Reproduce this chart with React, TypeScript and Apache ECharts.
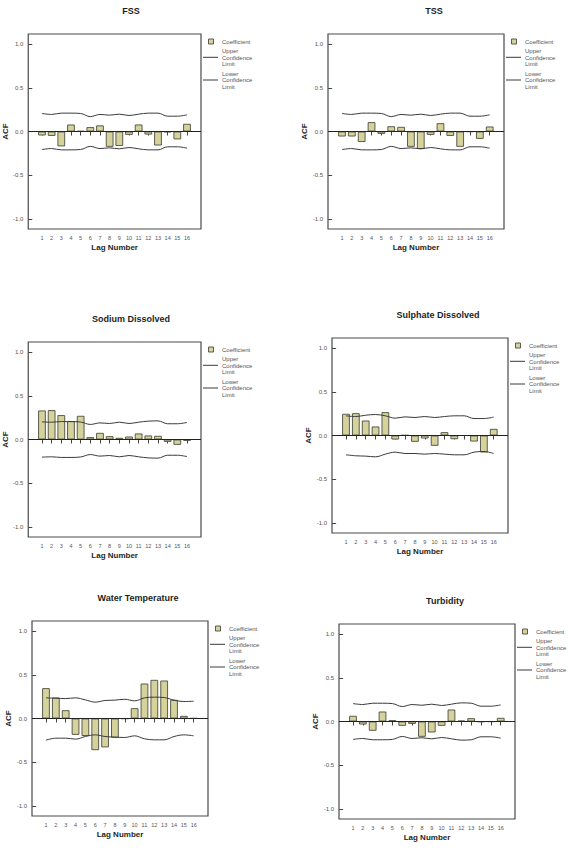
import React, { useEffect, useRef } from "react";
import * as echarts from "echarts";

// Lag numbers shown on every x axis
const lags = [1, 2, 3, 4, 5, 6, 7, 8, 9, 10, 11, 12, 13, 14, 15, 16];
// ACF tick values shown on every y axis
const acfTicks = [-1, -0.5, 0, 0.5, 1];

const legendLabels = ["Coefficient", "Upper\nConfidence\nLimit", "Lower\nConfidence\nLimit"];

// FSS
const fssCoef = [-0.045, -0.05, -0.17, 0.08, 0.005, 0.05, 0.07, -0.175, -0.165, -0.038, 0.08, -0.035, -0.16, -0.008, -0.09, 0.088];
const fssUpper = [0.206, 0.195, 0.21, 0.21, 0.206, 0.17, 0.195, 0.187, 0.198, 0.183, 0.198, 0.21, 0.21, 0.175, 0.175, 0.19];
const fssLower = [-0.206, -0.195, -0.21, -0.21, -0.206, -0.17, -0.195, -0.187, -0.198, -0.183, -0.198, -0.21, -0.21, -0.175, -0.175, -0.19];

// TSS
const tssCoef = [-0.057, -0.057, -0.12, 0.107, -0.027, 0.06, 0.053, -0.175, -0.2, -0.038, 0.095, -0.05, -0.175, -0.003, -0.084, 0.057];
const tssUpper = [0.206, 0.195, 0.21, 0.21, 0.206, 0.17, 0.195, 0.187, 0.198, 0.183, 0.198, 0.21, 0.21, 0.175, 0.175, 0.19];
const tssLower = [-0.206, -0.195, -0.21, -0.21, -0.206, -0.17, -0.195, -0.187, -0.198, -0.183, -0.198, -0.21, -0.21, -0.175, -0.175, -0.19];

// Sodium Dissolved
const sodiumCoef = [0.332, 0.336, 0.279, 0.21, 0.271, 0.027, 0.076, 0.038, 0.019, 0.034, 0.069, 0.046, 0.042, -0.027, -0.061, -0.015];
const sodiumUpper = [0.202, 0.198, 0.205, 0.205, 0.2, 0.172, 0.19, 0.183, 0.198, 0.183, 0.198, 0.21, 0.213, 0.18, 0.18, 0.195];
const sodiumLower = [-0.202, -0.198, -0.205, -0.205, -0.2, -0.172, -0.19, -0.183, -0.198, -0.183, -0.198, -0.21, -0.213, -0.18, -0.18, -0.195];

// Sulphate Dissolved
const sulphateCoef = [0.248, 0.255, 0.171, 0.103, 0.267, -0.046, 0.004, -0.072, -0.034, -0.118, 0.038, -0.042, 0.0, -0.069, -0.194, 0.076];
const sulphateUpper = [0.225, 0.217, 0.232, 0.24, 0.225, 0.198, 0.213, 0.206, 0.217, 0.206, 0.217, 0.225, 0.225, 0.194, 0.194, 0.21];
const sulphateLower = [-0.221, -0.232, -0.236, -0.244, -0.213, -0.19, -0.206, -0.206, -0.213, -0.206, -0.213, -0.221, -0.221, -0.19, -0.183, -0.206];

// Water Temperature
const waterTempCoef = [0.347, 0.24, 0.095, -0.187, -0.2, -0.362, -0.33, -0.22, -0.003, 0.118, 0.4, 0.442, 0.434, 0.213, 0.03, 0.003];
const waterTempUpper = [0.236, 0.232, 0.228, 0.236, 0.213, 0.187, 0.206, 0.21, 0.22, 0.202, 0.236, 0.244, 0.24, 0.21, 0.194, 0.198];
const waterTempLower = [-0.248, -0.225, -0.225, -0.236, -0.206, -0.187, -0.206, -0.213, -0.217, -0.198, -0.232, -0.244, -0.244, -0.206, -0.187, -0.198];

// Turbidity
const turbidityCoef = [0.065, -0.034, -0.106, 0.114, 0.015, -0.049, -0.027, -0.175, -0.125, -0.049, 0.137, 0.01, 0.038, -0.004, -0.002, 0.042];
const turbidityUpper = [0.205, 0.194, 0.209, 0.209, 0.205, 0.171, 0.194, 0.186, 0.198, 0.183, 0.198, 0.213, 0.209, 0.175, 0.175, 0.19];
const turbidityLower = [-0.205, -0.194, -0.209, -0.209, -0.205, -0.171, -0.194, -0.186, -0.198, -0.183, -0.198, -0.213, -0.209, -0.175, -0.175, -0.19];

const panels = [
  { title: "FSS", coef: fssCoef, upper: fssUpper, lower: fssLower, left: 25, top: 34 },
  { title: "TSS", coef: tssCoef, upper: tssUpper, lower: tssLower, left: 328, top: 34 },
  { title: "Sodium Dissolved", coef: sodiumCoef, upper: sodiumUpper, lower: sodiumLower, left: 25, top: 342 },
  { title: "Sulphate Dissolved", coef: sulphateCoef, upper: sulphateUpper, lower: sulphateLower, left: 332, top: 338 },
  { title: "Water Temperature", coef: waterTempCoef, upper: waterTempUpper, lower: waterTempLower, left: 32, top: 621 },
  { title: "Turbidity", coef: turbidityCoef, upper: turbidityUpper, lower: turbidityLower, left: 339, top: 624 },
];

const FONT = "'Liberation Sans', Arial, Helvetica, sans-serif";
const PLOT_W = 176;
const PLOT_H = 195;
const BAR_FILL = "#d5d29c";
const BAR_EDGE = "#4d4d40";
const LIMIT_COLOR = "#3a3a3a";
const TEXT_DARK = "#1e1e1e";
const TEXT_GREY = "#555555";

function textEl(x: number, y: number, text: string, size: number, opts: any = {}) {
  const align = opts.align || "left";
  return {
    type: "text",
    x,
    y,
    silent: true,
    style: {
      text,
      fontFamily: FONT,
      fontSize: size,
      fontWeight: opts.bold ? "bold" : "normal",
      fill: opts.color || TEXT_GREY,
      align,
      textAlign: align,
      verticalAlign: "middle",
      textVerticalAlign: "middle",
      lineHeight: opts.lineHeight,
    },
  };
}

function buildOption() {
  const grid: any[] = [];
  const xAxis: any[] = [];
  const yAxis: any[] = [];
  const series: any[] = [];
  const graphic: any[] = [];

  panels.forEach((p, i) => {
    grid.push({
      left: p.left,
      top: p.top,
      width: PLOT_W,
      height: PLOT_H,
      show: true,
      borderColor: "#4a4a4a",
      borderWidth: 1.2,
      backgroundColor: "transparent",
      containLabel: false,
    });

    xAxis.push({
      type: "value",
      gridIndex: i,
      min: -0.42,
      max: 17.45,
      name: "Lag Number",
      nameLocation: "middle",
      nameGap: 14.5,
      nameTextStyle: { fontFamily: FONT, fontSize: 8, fontWeight: "bold", color: TEXT_DARK },
      axisLine: { show: false },
      splitLine: { show: false },
      axisTick: { show: true, customValues: lags, length: 4, lineStyle: { color: "#444", width: 1 } },
      axisLabel: { show: true, customValues: lags, fontFamily: FONT, fontSize: 5.5, color: TEXT_GREY, margin: 6 },
    });

    yAxis.push({
      type: "value",
      gridIndex: i,
      min: -1.115,
      max: 1.115,
      name: "ACF",
      nameLocation: "middle",
      nameRotate: 90,
      nameGap: 17.5,
      nameTextStyle: { fontFamily: FONT, fontSize: 8, fontWeight: "bold", color: TEXT_DARK },
      axisLine: { show: false },
      splitLine: { show: false },
      axisTick: { show: true, customValues: acfTicks, length: 4, lineStyle: { color: "#444", width: 1 } },
      axisLabel: {
        show: true,
        customValues: acfTicks,
        fontFamily: FONT,
        fontSize: 6,
        color: TEXT_GREY,
        margin: 5,
        formatter: (v: number) => v.toFixed(1),
      },
    });

    series.push({
      type: "bar",
      name: "Coefficient",
      xAxisIndex: i,
      yAxisIndex: i,
      barWidth: 7.7,
      data: lags.map((l, k) => [l, p.coef[k]]),
      itemStyle: { color: BAR_FILL, borderColor: BAR_EDGE, borderWidth: 0.9 },
      markLine: {
        silent: true,
        symbol: "none",
        label: { show: false },
        lineStyle: { color: "#222", width: 1, type: "solid" },
        data: [{ yAxis: 0 }],
      },
      z: 2,
    });
    series.push({
      type: "line",
      name: "Upper Confidence Limit",
      xAxisIndex: i,
      yAxisIndex: i,
      smooth: 0.35,
      symbol: "none",
      data: lags.map((l, k) => [l, p.upper[k]]),
      lineStyle: { color: LIMIT_COLOR, width: 1 },
      z: 3,
    });
    series.push({
      type: "line",
      name: "Lower Confidence Limit",
      xAxisIndex: i,
      yAxisIndex: i,
      smooth: 0.35,
      symbol: "none",
      data: lags.map((l, k) => [l, p.lower[k]]),
      lineStyle: { color: LIMIT_COLOR, width: 1 },
      z: 3,
    });

    // Panel title
    graphic.push(textEl(p.left + 106, p.top - 23, p.title, 9, { bold: true, color: TEXT_DARK, align: "center" }));

    // Legend to the right of the plot frame
    const rx = p.left + PLOT_W;
    graphic.push({
      type: "rect",
      silent: true,
      shape: { x: rx + 7.5, y: p.top + 5, width: 5, height: 5 },
      style: { fill: BAR_FILL, stroke: BAR_EDGE, lineWidth: 0.9 },
    });
    graphic.push(textEl(rx + 21, p.top + 7.7, legendLabels[0], 6));
    graphic.push({
      type: "line",
      silent: true,
      shape: { x1: rx + 2, y1: p.top + 23.3, x2: rx + 17, y2: p.top + 23.3 },
      style: { stroke: LIMIT_COLOR, lineWidth: 1 },
    });
    graphic.push(textEl(rx + 21, p.top + 23.5, legendLabels[1], 6, { lineHeight: 6.8 }));
    graphic.push({
      type: "line",
      silent: true,
      shape: { x1: rx + 2, y1: p.top + 46, x2: rx + 17, y2: p.top + 46 },
      style: { stroke: LIMIT_COLOR, lineWidth: 1 },
    });
    graphic.push(textEl(rx + 21, p.top + 46.3, legendLabels[2], 6, { lineHeight: 6.8 }));
  });

  return {
    animation: false,
    backgroundColor: "#ffffff",
    textStyle: { fontFamily: FONT },
    grid,
    xAxis,
    yAxis,
    series,
    graphic: { elements: graphic },
  };
}

export default function App() {
  const ref = useRef<HTMLDivElement>(null);

  useEffect(() => {
    if (!ref.current) return;
    const chart = echarts.init(ref.current, undefined, { renderer: "svg" });
    chart.setOption(buildOption() as any);
    return () => {
      chart.dispose();
    };
  }, []);

  return (
    <div
      ref={ref}
      style={{ position: "absolute", left: 0, top: 0, width: 568, height: 855, background: "#fff" }}
    />
  );
}
